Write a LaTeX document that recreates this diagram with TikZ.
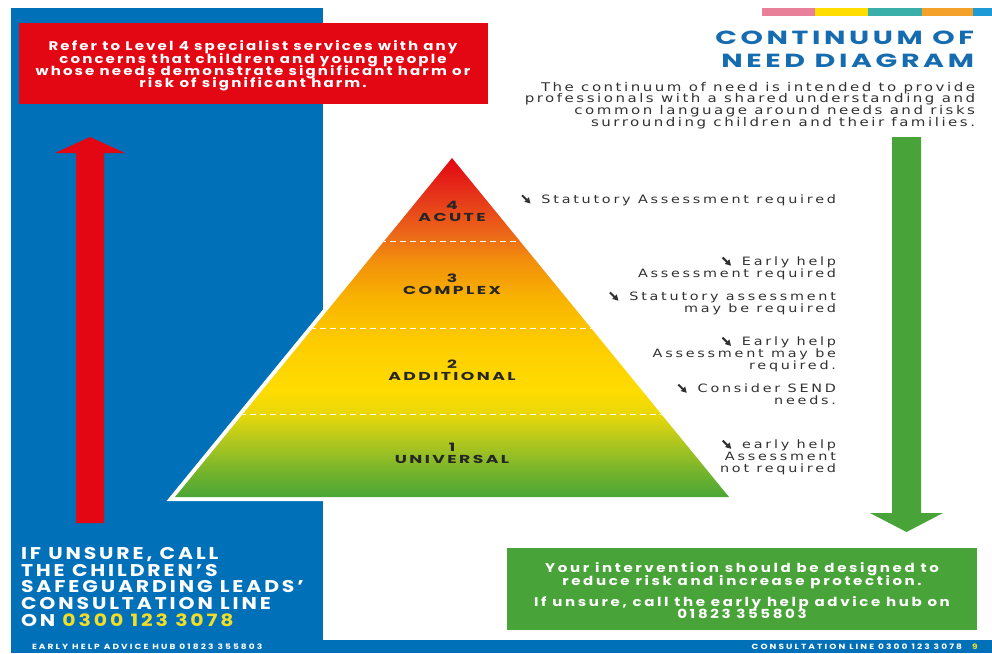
\documentclass[tikz,border=0pt]{standalone}
\usepackage{fontspec}
\setmainfont{Poppins}
\newfontfamily\heavy[FakeStretch=1.2]{Poppins}
\newfontfamily\titlef[FakeStretch=1.5]{Poppins}
\newfontfamily\lightf[FakeStretch=1.25]{DejaVu Sans}
\definecolor{pblue}{RGB}{0,112,184}
\definecolor{pred}{RGB}{227,6,19}
\definecolor{pgreen}{RGB}{72,164,56}
\definecolor{tblue}{RGB}{22,108,176}
\definecolor{pyellow}{RGB}{242,222,40}
\definecolor{tgray}{RGB}{50,50,50}
\definecolor{barpink}{RGB}{232,128,154}
\definecolor{baryellow}{RGB}{255,221,0}
\definecolor{barteal}{RGB}{58,175,169}
\definecolor{barorange}{RGB}{244,161,42}
\definecolor{barblue}{RGB}{30,154,214}
\definecolor{s1}{RGB}{74,166,55}
\definecolor{s2}{RGB}{120,181,43}
\definecolor{s3}{RGB}{180,200,30}
\definecolor{s4}{RGB}{232,216,10}
\definecolor{s5}{RGB}{255,220,0}
\definecolor{s6}{RGB}{253,203,0}
\definecolor{s7}{RGB}{249,180,0}
\definecolor{s8}{RGB}{242,142,12}
\definecolor{s9}{RGB}{236,106,24}
\definecolor{s10}{RGB}{230,58,26}
\definecolor{s11}{RGB}{227,6,19}
\pgfdeclareverticalshading{pyr}{100bp}{color(0bp)=(s1); color(25bp)=(s1); color(29bp)=(s2); color(33.4bp)=(s3); color(37.1bp)=(s4); color(40.8bp)=(s5); color(48.2bp)=(s6); color(54.1bp)=(s7); color(60bp)=(s8); color(63.6bp)=(s9); color(68.8bp)=(s10); color(75bp)=(s11); color(100bp)=(s11)}
\newcommand\hv[3]{\heavy\bfseries\addfontfeatures{LetterSpace=#3}\fontsize{#1}{#2}\selectfont\lineskiplimit=-\maxdimen}
\newcommand\tf[3]{\titlef\bfseries\addfontfeatures{LetterSpace=#3}\fontsize{#1}{#2}\selectfont\lineskiplimit=-\maxdimen}
\newcommand\lt[3]{\lightf\addfontfeatures{LetterSpace=#3}\fontsize{#1}{#2}\selectfont\lineskiplimit=-\maxdimen}
\newcommand\arr{\tikz[baseline=0pt,x=1pt,y=1pt]{\draw[line width=2.1pt,tgray] (0.6,8) -- (5.6,3); \fill[tgray] (9,-0.2) -- (2.8,1.6) -- (7.4,6.2) -- cycle;}\hspace{11pt}}
\begin{document}
\begin{tikzpicture}[x=1pt,y=-1pt,
  every node/.style={inner sep=0pt,outer sep=0pt},
  whitehv/.style={text=white,align=center},
  annot/.style={anchor=east,align=right,text=tgray,font=\lt{11.5}{11.7}{24}},
  lvl/.style={align=center,text=black!85,font=\tf{11.5}{12}{21}}]
\useasboundingbox (0,0) rectangle (992,653);
\fill[white] (0,0) rectangle (992,653);
% blue panel and strip
\fill[pblue] (11,8) rectangle (323,653);
\fill[pblue] (11,640) rectangle (992,653);
% colour bar
\fill[barpink] (762,8) rectangle (815,16);
\fill[baryellow] (815,8) rectangle (868,16);
\fill[barteal] (868,8) rectangle (922,16);
\fill[barorange] (922,8) rectangle (973,16);
\fill[barblue] (973,8) rectangle (992,16);
% red box
\node[fill=pred,minimum width=469pt,minimum height=81pt,anchor=north west] (redbox) at (19,23) {};
\node[whitehv,font=\hv{12.5}{12.2}{17}] (redtxt) at (253,66)
 {Refer to Level 4 specialist services with any\\concerns that children and young people\\whose needs demonstrate significant harm or\\risk of significant harm.};
% title
\node[anchor=east,align=right,text=tblue,font=\tf{19}{23}{19}] (title) at (974,49)
 {CONTINUUM OF\\NEED DIAGRAM};
\node[anchor=east,align=right,text=tgray,font=\lt{12}{11.7}{21}] (intro) at (975,105.5)
 {The continuum of need is intended to provide\\professionals with a shared understanding and\\common language around needs and risks\\surrounding children and their families.};
% arrows
\fill[pred] (76,523) -- (76,153) -- (55,153) -- (90,137) -- (125,153) -- (104,153) -- (104,523) -- cycle;
\fill[pgreen] (892,137) -- (921,137) -- (921,513) -- (943,513) -- (906.5,532) -- (870,513) -- (892,513) -- cycle;
% pyramid
\draw[white,line width=8pt,line join=miter] (452,158) -- (729,497) -- (175,497) -- cycle;
\begin{scope}
\clip (452,158) -- (729,497) -- (175,497) -- cycle;
\shade[shading=pyr] (170,158) rectangle (735,497);
\draw[white,line width=0.8pt,dash pattern=on 6pt off 4pt] (150,241) -- (750,241);
\draw[white,line width=0.8pt,dash pattern=on 6pt off 4pt] (150,328) -- (750,328);
\draw[white,line width=0.8pt,dash pattern=on 6pt off 4pt] (150,414) -- (750,414);
\end{scope}
\node[lvl] (l4) at (452,211) {4\\ACUTE};
\node[lvl] (l3) at (452,284.5) {3\\COMPLEX};
\node[lvl] (l2) at (452,370) {2\\ADDITIONAL};
\node[lvl] (l1) at (452,453.5) {1\\UNIVERSAL};
% annotations
\node[annot] (a4) at (836,200) {\arr Statutory Assessment required};
\node[annot] (a3a) at (836,268) {\arr Early help\\Assessment required};
\node[annot] (a3b) at (836,303) {\arr Statutory assessment\\may be required};
\node[annot] (a2a) at (836,354) {\arr Early help\\Assessment may be\\required.};
\node[annot] (a2b) at (836,394) {\arr Consider SEND\\needs.};
\node[annot] (a1) at (836,457) {\arr early help\\Assessment\\not required};
% bottom left
\node[anchor=west,align=left,text=white,font=\hv{17}{16.8}{17}] (unsure) at (21,587)
 {IF UNSURE, CALL\\THE CHILDREN’S\\SAFEGUARDING LEADS’\\CONSULTATION LINE\\ON \textcolor{pyellow}{0300 123 3078}};
% green box
\node[fill=pgreen,minimum width=470pt,minimum height=82pt,anchor=north west] (greenbox) at (507,548) {};
\node[whitehv,font=\hv{12.5}{12.8}{21}] (g1) at (742,576) {Your intervention should be designed to\\reduce risk and increase protection.};
\node[whitehv,font=\hv{12.5}{12}{21}] (g2) at (742,608) {If unsure, call the early help advice hub on\\01823 355803};
% footer
\node[anchor=west,text=white,font=\hv{7.5}{8}{28}] (fl) at (32,647) {EARLY HELP ADVICE HUB 01823 355803};
\node[anchor=east,text=white,font=\hv{7.5}{8}{28}] (fr) at (962,647) {CONSULTATION LINE 0300 123 3078};
\node[text=pyellow,font=\hv{7.5}{8}{0}] (pg) at (975,647) {9};
\end{tikzpicture}
\end{document}
